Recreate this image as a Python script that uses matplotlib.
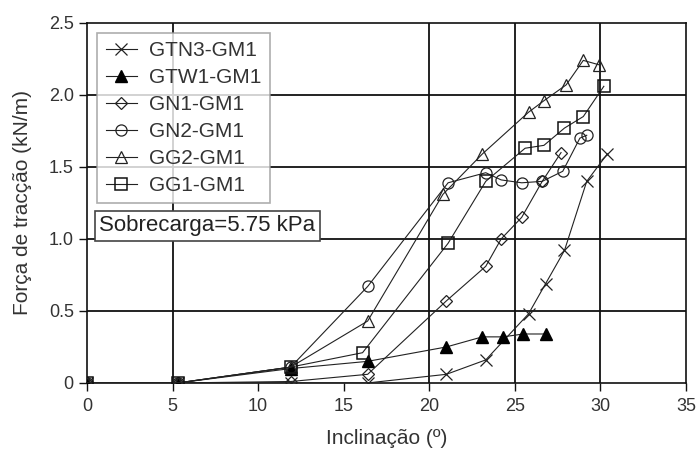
import matplotlib
matplotlib.use("Agg")
import matplotlib.pyplot as plt

plt.rcParams['font.family'] = ['Liberation Sans', 'DejaVu Sans']

# Tensile force (kN/m) versus inclination (degrees)
gtn3_x = [0, 5.3, 11.9, 16.4, 21.0, 23.3, 25.8, 26.8, 27.9, 29.2, 30.4]
gtn3_y = [0, 0, 0.0, 0.0, 0.06, 0.16, 0.48, 0.69, 0.92, 1.40, 1.59]

gtw1_x = [0, 5.3, 11.9, 16.4, 21.0, 23.1, 24.3, 25.5, 26.8]
gtw1_y = [0, 0, 0.10, 0.15, 0.25, 0.32, 0.32, 0.34, 0.34]

gn1_x = [0, 5.3, 11.9, 16.4, 21.0, 23.3, 24.2, 25.4, 26.6, 27.7]
gn1_y = [0, 0, 0.01, 0.06, 0.57, 0.81, 1.00, 1.15, 1.40, 1.60]

gn2_x = [0, 5.3, 11.9, 16.4, 21.1, 23.3, 24.2, 25.4, 26.6, 27.8, 28.8, 29.2]
gn2_y = [0, 0, 0.11, 0.67, 1.39, 1.46, 1.41, 1.39, 1.40, 1.47, 1.70, 1.72]

gg2_x = [0, 5.3, 11.9, 16.4, 20.8, 23.1, 25.8, 26.7, 28.0, 29.0, 29.9]
gg2_y = [0, 0, 0.11, 0.43, 1.31, 1.59, 1.88, 1.96, 2.07, 2.24, 2.21]

gg1_x = [0, 5.3, 11.9, 16.1, 21.1, 23.3, 25.6, 26.7, 27.9, 29.0, 30.2]
gg1_y = [0, 0, 0.11, 0.21, 0.97, 1.40, 1.63, 1.65, 1.77, 1.85, 2.06]

x_ticks = [0, 5, 10, 15, 20, 25, 30, 35]
x_labels = ["0", "5", "10", "15", "20", "25", "30", "35"]
y_ticks = [0, 0.5, 1.0, 1.5, 2.0, 2.5]
y_labels = ["0", "0.5", "1.0", "1.5", "2.0", "2.5"]
grid_x = [5, 20, 25, 30]
grid_y = [0.5, 1.0, 1.5, 2.0]

fig = plt.figure(figsize=(6.96, 4.5), dpi=100)
ax = fig.add_axes([0.125, 0.149, 0.8606, 0.80])

for gx in grid_x:
    ax.axvline(gx, color='#111111', lw=1.3, zorder=1)
for gy in grid_y:
    ax.axhline(gy, color='#111111', lw=1.3, zorder=1)

line_kw = dict(color='#222222', lw=0.8, zorder=3)
ax.plot(gtn3_x, gtn3_y, marker='x', ms=8, mew=0.9, label='GTN3-GM1', **line_kw)
ax.plot(gtw1_x, gtw1_y, marker='^', ms=8, mfc='black', mec='black', label='GTW1-GM1', **line_kw)
ax.plot(gn1_x, gn1_y, marker='D', ms=6, mfc='none', mec='#222222', mew=0.9, label='GN1-GM1', **line_kw)
ax.plot(gn2_x, gn2_y, marker='o', ms=8, mfc='none', mec='#222222', mew=0.9, label='GN2-GM1', **line_kw)
ax.plot(gg2_x, gg2_y, marker='^', ms=9, mfc='none', mec='#222222', mew=0.9, label='GG2-GM1', **line_kw)
ax.plot(gg1_x, gg1_y, marker='s', ms=8, mfc='none', mec='#111111', mew=1.1, label='GG1-GM1', **line_kw)

ax.set_xlim(0, 35)
ax.set_ylim(0, 2.5)
ax.set_xticks(x_ticks)
ax.set_xticklabels(x_labels)
ax.set_yticks(y_ticks)
ax.set_yticklabels(y_labels)
ax.tick_params(direction='out', length=6, width=1, labelsize=13, colors='#111111',
               labelcolor='#333333')
ax.tick_params(axis='x', pad=5)
for sp in ax.spines.values():
    sp.set_color('#111111')
    sp.set_linewidth(1.2)

ax.set_xlabel('Inclinação (º)', fontsize=15, color='#333333', labelpad=10)
ax.set_ylabel('Força de tracção (kN/m)', fontsize=15, color='#333333', labelpad=12)

leg = ax.legend(loc='upper left', bbox_to_anchor=(0.017, 0.972), borderaxespad=0,
                fontsize=15, frameon=True, fancybox=False, handlelength=1.5,
                handletextpad=0.6, labelspacing=0.38, borderpad=0.4, labelcolor='#333333')
leg.get_frame().set_edgecolor('#999999')
leg.get_frame().set_linewidth(1.2)
leg.set_zorder(5)

ax.text(0.02, 0.436, 'Sobrecarga=5.75 kPa', transform=ax.transAxes, fontsize=16,
        color='#222222', va='center', ha='left', zorder=6,
        bbox=dict(boxstyle='square,pad=0.2', fc='white', ec='#444444', lw=1.2))

fig.savefig('out.png', dpi=100)
